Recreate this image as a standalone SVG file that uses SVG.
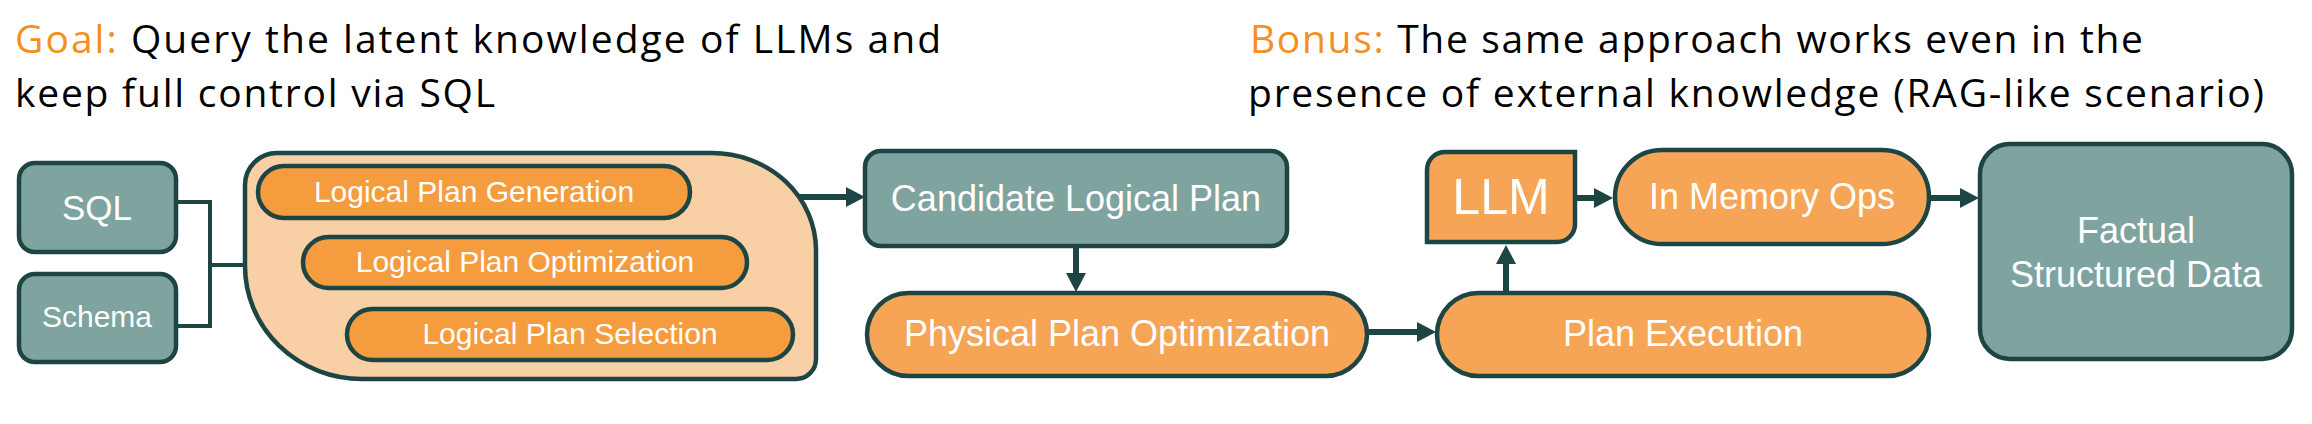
<svg xmlns="http://www.w3.org/2000/svg" width="2312" height="424" viewBox="0 0 2312 424">
<style>
.title{font-family:"Open Sans","Liberation Sans",sans-serif;font-size:39px;fill:#000}
.hl{fill:#F4901E}
.teal{fill:#7FA39F;stroke:#1D4543;stroke-width:4.5}
.org{fill:#F6A556;stroke:#1D4543;stroke-width:4.5}
.org2{fill:#F59C3E;stroke:#1D4543;stroke-width:4.5}
.peach{fill:#F9CFA6;stroke:#1D4543;stroke-width:4.5}
.lbl{font-family:"Liberation Sans",Arial,sans-serif;fill:#fff;text-anchor:middle}
.conn{fill:none;stroke:#1D4543;stroke-width:6}
.thin{fill:none;stroke:#1D4543;stroke-width:4}
</style>
<defs>
<marker id="ah" viewBox="0 -10 19 20" refX="0" refY="0" markerWidth="19" markerHeight="20" markerUnits="userSpaceOnUse" orient="auto">
<path d="M0,-10 L19,0 L0,10 Z" fill="#1D4543"/>
</marker>
</defs>
<rect width="2312" height="424" fill="#fff"/>

<g id="titles">
<text class="title" x="15" y="53" textLength="926" lengthAdjust="spacing"><tspan class="hl">Goal:</tspan> Query the latent knowledge of LLMs and</text>
<text class="title" x="15" y="107" textLength="480" lengthAdjust="spacing">keep full control via SQL</text>
<text class="title" x="1250" y="53" textLength="893" lengthAdjust="spacing"><tspan class="hl">Bonus:</tspan> The same approach works even in the</text>
<text class="title" x="1248" y="107" textLength="1016" lengthAdjust="spacing">presence of external knowledge (RAG-like scenario)</text>
</g>

<g id="connectors">
<polyline class="thin" points="177,202 210,202 210,326 177,326"/>
<line class="thin" x1="210" y1="265" x2="245" y2="265"/>
<line class="conn" x1="795" y1="197" x2="846" y2="197" marker-end="url(#ah)"/>
<line class="conn" x1="1076" y1="247" x2="1076" y2="273" marker-end="url(#ah)"/>
<line class="conn" x1="1368" y1="332" x2="1417" y2="332" marker-end="url(#ah)"/>
<line class="conn" x1="1506" y1="292" x2="1506" y2="264" marker-end="url(#ah)"/>
<line class="conn" x1="1577" y1="198" x2="1594" y2="198" marker-end="url(#ah)"/>
<line class="conn" x1="1930" y1="198" x2="1960" y2="198" marker-end="url(#ah)"/>
</g>

<g id="sql">
<rect class="teal" x="19" y="163" width="157" height="89" rx="16"/>
<text class="lbl" x="97" y="220" font-size="35">SQL</text>
</g>
<g id="schema">
<rect class="teal" x="19" y="274" width="157" height="88" rx="16"/>
<text class="lbl" x="97" y="327" font-size="30">Schema</text>
</g>

<g id="logical-planner">
<path class="peach" d="M245,185 A32,32 0 0 1 277,153 L712,153 A104,97 0 0 1 816,250 L816,359 A20,20 0 0 1 796,379 L362,379 A117,113 0 0 1 245,266 Z"/>
</g>
<g id="lp-generation">
<rect class="org2" x="258" y="166" width="432" height="52" rx="26"/>
<text class="lbl" x="474" y="202" font-size="30">Logical Plan Generation</text>
</g>
<g id="lp-optimization">
<rect class="org2" x="303" y="237" width="444" height="51" rx="25.5"/>
<text class="lbl" x="525" y="272" font-size="30">Logical Plan Optimization</text>
</g>
<g id="lp-selection">
<rect class="org2" x="347" y="309" width="446" height="51" rx="25.5"/>
<text class="lbl" x="570" y="344" font-size="30">Logical Plan Selection</text>
</g>

<g id="candidate">
<rect class="teal" x="865" y="151" width="422" height="95" rx="16"/>
<text class="lbl" x="1076" y="211" font-size="36">Candidate Logical Plan</text>
</g>
<g id="physical">
<rect class="org" x="867" y="293" width="500" height="83" rx="41.5"/>
<text class="lbl" x="1117" y="346" font-size="36">Physical Plan Optimization</text>
</g>
<g id="execution">
<rect class="org" x="1437" y="293" width="492" height="83" rx="41.5"/>
<text class="lbl" x="1683" y="346" font-size="36">Plan Execution</text>
</g>
<g id="llm">
<path class="org" d="M1427,170 A18,18 0 0 1 1445,152 L1575,152 L1575,224 A18,18 0 0 1 1557,242 L1427,242 Z"/>
<text class="lbl" x="1501" y="214" font-size="50">LLM</text>
</g>
<g id="inmemory">
<rect class="org" x="1615" y="150" width="314" height="94" rx="47"/>
<text class="lbl" x="1772" y="209" font-size="36">In Memory Ops</text>
</g>
<g id="factual">
<rect class="teal" x="1980" y="144" width="312" height="215" rx="30"/>
<text class="lbl" x="2136" y="243" font-size="36">Factual</text>
<text class="lbl" x="2136" y="287" font-size="36">Structured Data</text>
</g>
</svg>
